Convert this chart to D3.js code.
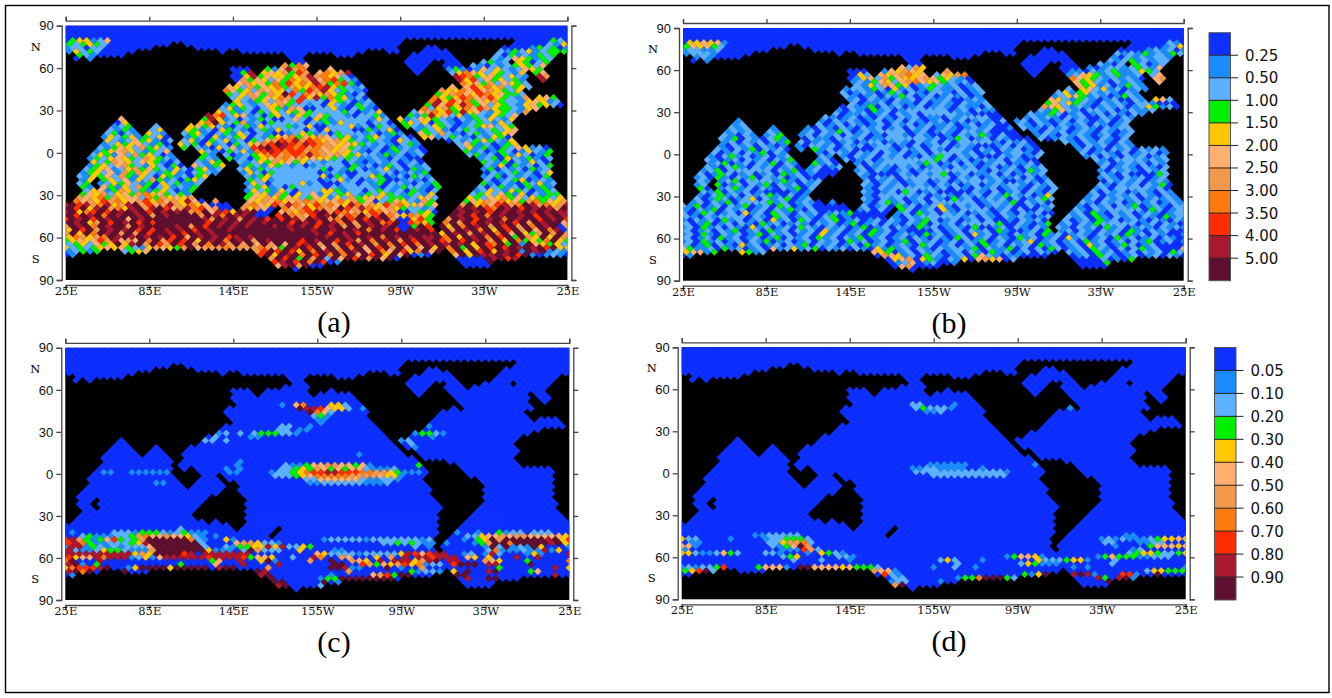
<!DOCTYPE html>
<html>
<head>
<meta charset="utf-8">
<script src="https://d3js.org/d3.v7.min.js"></script>
<style>
body { margin: 0; background: #fff; }
svg { display: block; }
.tick text { fill: #111; }
</style>
</head>
<body>
<svg id="fig" width="1332" height="698"></svg>
<script>
// Tick labels
const lonTicks = [25, 85, 145, 205, 265, 325, 385];
const lonLabels = ['25E', '85E', '145E', '155W', '95W', '35W', '25E'];
const latTicks = [90, 60, 30, 0, -30, -60, -90];

// Colour classes, 0 to a, and the colour bar labels
const classColors = ['#0d2fff', '#1a8cff', '#5cb0ff', '#00f000', '#ffc800', '#ffb070', '#f0984c', '#ff7a10', '#ff2d00', '#aa1830', '#5f1030'];
const labelsTop = ['0.25', '0.50', '1.00', '1.50', '2.00', '2.50', '3.00', '3.50', '4.00', '5.00'];
const labelsBottom = ['0.05', '0.10', '0.20', '0.30', '0.40', '0.50', '0.60', '0.70', '0.80', '0.90'];

// Land cells per grid row (row 0 is the north edge), as column ranges
const landRows = ['', '', '', '', '', '49-64', '15-16 48-63', '13-18 48-51 54-62',
  '10-21 23-24 43-45 48-50 55-61', '0-1 9-31 35-38 42-49 56-61 71', '0 2 4-31 34-48 56-60 70-71',
  '0-32 35-48 53-54 57-59 64 70-71', '0-30 35-48 52-53 57 69-71', '0-23 27-28 35-37 39-49 52-54 69-71',
  '0-23 27 35 41-49 51-54 66 69-71', '0-23 42-55 67 70-71', '0-23 42-55 66-67 69-71', '0-24 43-56 67-71',
  '0-22 43-54 56 67-71', '0-22 44-53 66-71', '0-22 43-52 66-71', '0-23 44-52 67 71', '0-23 44-51 71',
  '0-22 45-51', '0-21 45-50 68-71', '0-21 46-49 67-71', '0-19 46-48 65-71', '0-7 9-19 47 65-71',
  '0-6 9-18 47 64-71', '0-6 10-12 14-17 48 65-71', '0-5 10-11 14-16 48-49 65-71', '0-5 11 15-16 49-50 65-71',
  '0-4 15-16 50 64-71', '0-5 16 51-54 65-71', '0-4 15 51-55 65-71', '0-4 16 18 52-56 70-71',
  '0-3 15-18 52-56 70-71', '0-3 16-19 22 52-57 70-71', '0-2 16-18 22 51-58 70-71', '0-3 17-18 23-24 52-59 70-71',
  '0-2 17 23-24 52-59 70-71', '0-2 23-24 53-59 70-71', '0-1 22-24 52-59 70-71', '0-1 21-25 53-59 70-71',
  '0-1 4 20-25 53-59 70-71', '0-1 4 20-25 54-59 71', '0-1 4 19-25 54-58 70-71', '0-2 19-25 54-58 71',
  '0-1 18-25 53-57 71', '0-1 19-25 54-57', '0 20 22-25 53-56', '24-25 54-56', '24 30 53-55', '30 54-55',
  '29 53-54', '53-54', '53', '53', '53', '', '', '', '', '', '5-7 12-26 54', '2-27 53-55', '0-28 48-55 65-71',
  '0-29 40-56 62-71', '0-29 37-56 61-71', '0-32 34-71', '0-71', '0-71', '0-71'];

// Values read off each map as row:column:classes, anything not listed is the lowest class
const valuesA = ['5:1:344125', '5:70:32', '6:0:323432', '6:69:214', '7:0:122022', '7:67:13230', '8:0:14232', '8:62:2132412333', '9:2:321', '9:62:203121323', '10:3:1', '10:61:212543132',
  '11:60:2312', '11:65:43023', '12:31:6375', '12:58:21021234325', '13:24:000', '13:29:315967', '13:38:5', '13:55:13101524212543', '14:24:039', '14:28:4546386', '14:36:57469', '14:55:24754243214', '14:67:35',
  '15:24:004935443469674520', '15:56:98734532421', '15:68:96', '16:24:063542537469578321', '16:56:9482534231', '16:68:9', '17:25:564537384749637830', '17:57:7453625432',
  '18:23:54263547364478943212', '18:55:5', '18:57:5847462342', '19:23:753426544273869423210', '19:54:644758564324', '20:23:32465364a82754643102', '20:53:3467548745332',
  '21:24:24263547628493734120', '21:53:74348756843216', '21:68:453', '22:24:42134265384756432012', '22:52:7948573546322145412', '23:23:1342125463728354210321', '23:52:39584973524321453420',
  '24:22:24132024316543824102310', '24:51:72463475864332145', '25:22:423120324243536421320124', '25:50:25674839452143216', '26:20:97824512034214325312401231', '26:49:3139452413214325',
  '27:8:5', '27:20:394120213243152043125302142', '27:48:41254321021324214', '28:7:04', '28:19:47a4236120324105213142013520', '28:48:3424032101232142',
  '29:7:123', '29:13:2', '29:18:453421023142053124031524120321', '29:49:3212432012345243', '30:6:2131', '30:12:24', '30:17:431204321023142013204315203124', '30:50:132410232123245',
  '31:6:23021', '31:12:421', '31:17:23410231420213425431203125420131', '31:51:53262102312345', '32:5:1423413240', '32:17:13204123402134573546523412342102', '32:51:4512321021430',
  '33:6:4212534102', '33:17:241032412032568796874564321024', '33:55:0212343214', '34:5:1243452130', '34:16:42304120324578a98798765454321', '34:56:253120134',
  '35:5:21354263421', '35:17:3', '35:19:2104251289a898786756453210', '35:57:2413103254120', '36:4:13456421325', '36:19:4210324178987886765454210', '36:57:3120132014213',
  '37:4:243152634201', '37:20:31', '37:23:20123478678797656434221', '37:58:231203142013', '38:3:1324543264321', '38:19:321', '38:23:312034567564544323211', '38:59:12304213102',
  '39:4:4236542543102', '39:19:2143', '39:25:212436453422123421012', '39:60:3213021420', '40:3:13425632142 03', '40:18:52134', '40:25:132143212013212431201', '40:60:2140312023',
  '41:3:23451246353214203412', '41:25:24132012421230213201241302', '41:60:1302120312', '42:2:13425163642134102321', '42:25:142031241320121342012310 2', '42:60:0212312024',
  '43:2:2143526314204312034', '43:26:213420132124031221430', '43:60:1230212103', '44:2:14', '44:5:342514263120342', '44:26:324120213031241201230', '44:60:2012340121',
  '45:2:23', '45:5:124352130423112', '45:26:1420312341203124021302', '45:60:3102103241 2', '46:2:31', '46:5:53142630241213', '46:26:234120324130214230102132', '46:59:20231203131',
  '47:3:2451364231342013', '47:26:142314203124431052132', '47:59:124214320132', '48:2:3546245367453231', '48:26:354163042514234213243', '48:58:2342531402133',
  '49:2:65473645527364546', '49:26:3546435423541426345423', '49:58:43254635243324', '50:1:756486745684756495', '50:21:6', '50:26:546574567645574635', '50:57:354657453673546',
  '51:0:9a89679469a6856964745', '51:26:675486975486754975648674', '51:57:6a4758967a96746', '52:0:a8a49a6749a69a85697856', '52:25:6465', '52:31:75684765a8697456475', '52:56:9a9a87a9a8a9a96a',
  '53:0:9a478a8a9a9a8a9a9a67a5984a9a', '53:31:564789a6875648756', '53:56:a9a9a8a9a9a9a9a9', '54:0:a8a9a7a9aa9a6a9aaaa6a97a99a', '54:30:8a7658a9a687a68a7', '54:55:a9a8a7a9aa9a8a9a9',
  '55:0:8a9a8a9aa5a9aaaaaaaa96a9a6a9a8a8a96a9a67a8a8a9a6', '55:55:6a9a8a9a7a9aa8a9a', '56:0:a9a46a8a9a8a8aaaaaaa8a9a9a9a9aaa8a9a8a97a6a9a78a', '56:54:7a6a8a9a9a8a6a9aa5',
  '57:0:6a9a7a9aa6a9aaaa9a6a8a9a9a9aaa9a9a9a8a9a6a6a9a9a', '57:54:a4a7a9a6a8a6a7a9a', '58:0:4a8a6a9a9a8a8a9a9a8a9aa9aaaaaaaa9aa9aa9aa9a7a9a8', '58:54:a6a9a7a4a8a6a5a79',
  '59:0:6a4a7a9a6a6a8aa9a8a9a9aaaaaaaaaaaaaa9a8a9a8aaaaaaaaaaa4a9a6a9a7a5a436a6a', '60:0:476467a9a9a9a9a8a5a9a9a89a9aaaaaaaaaa9aa9aa9a7a9a9a99a7a4a9a7a8a3a64a4a6a',
  '61:0:34545869565a7a68a8a4a9a7a9a6a9aaaa8a9aa8a96a7a9a6a8a9a87a8a9a6a4a73437a4', '62:0:2342534a49a6a86a8a6a7a96a6a5a6a5a89a6a6a8a9a6a7a8a7a9a9a9a4a87a3a1a54342',
  '63:0:423234545321465436a5666766667653a9a8a5a6a7a5a8a6a5a5a4a7a3a4a8a8a9a9a8a4', '64:0:12313', '64:8:2345', '64:27:68a8a84a7a9a7a9a5a75a847a5a', '64:55:7a4a8a4a9a1a9a1213',
  '65:0:01', '65:28:8a4a9a7a8a7a7a5a8a4a5a0101', '65:56:5a4a99a9a8a1012101', '66:29:6a8a3a6a2a5a8a6a5a0', '66:56:0000a9a89', '67:30:89a8a7a801', '67:57:0000a', '68:30:59a6a00', '68:57:0000', '69:33:0',
  // east Pacific edge
  '33:44:3210421', '34:45:210231', '35:44:1203121', '36:44:20132120', '37:46:312012', '38:44:210210', '39:46:120120', '40:46:320212', '41:47:120312', '42:46:201213', '43:47:120321', '44:47:012102',
  '45:48:210213', '46:50:2103', '47:47:1203102', '48:47:213214', '49:48:3124521', '50:45:23542163', '51:50:4535', '52:48:32212', '53:50:2340', '54:47:547643', '55:50:483', '56:49:8743', '57:50:3a8', '58:49:a9a8',
  // solid patches in the central Pacific
  '22:34:2220', '23:33:22120', '24:34:0022', '25:36:2222', '26:38:22102', '27:30:002', '27:40:2222', '28:31:2220', '28:41:2202', '29:30:22', '29:36:0022', '30:31:2220', '30:38:2220', '31:30:0012', '31:40:2221',
  '39:38:2202', '40:36:22220', '41:30:222222', '42:30:222222', '42:40:0022', '43:31:22222', '43:40:2022', '44:31:222220', '45:30:2222', '45:38:0022', '46:33:22220', '46:40:2222', '47:34:222', '47:41:2202'];

const valuesB = ['5:1:445451', '5:70:21', '6:0:354532', '6:69:124', '7:0:122112', '7:67:12120', '8:0:12221', '8:62:2121312132', '9:2:121', '9:62:102121221', '10:3:1', '10:61:212312122',
  '11:60:2102', '11:65:32012', '12:31:5264', '12:58:10122123215', '13:24:000', '13:29:154654', '13:38:6', '13:55:01102123112432', '14:24:042', '14:28:5456745', '14:36:25467', '14:55:12543123112', '14:67:25',
  '15:24:014526354456534210', '15:56:75432121210', '15:68:56', '16:24:121354256754532120', '16:56:5342102121', '16:68:5', '17:25:214265340123212012', '17:57:5341201321',
  '18:23:12213204120132112012', '18:55:2', '18:57:4524120121', '19:23:201210132021022102012', '19:54:241342121021', '20:23:21012021320120121201', '20:53:1245312101321',
  '21:24:12021102120211200121', '21:53:54213210120021', '21:68:452', '22:24:20112021102012102112', '22:52:3524321021210221', '23:23:0211302120120121021102', '23:52:65421210121201243120',
  '24:22:10210312012102120120211', '24:51:21352102212012112', '25:22:201120120212012102110', '25:50:21132012012021021', '26:20:21012010210212011021021 0', '26:49:1212102120021021',
  '27:8:1', '27:20:102121012012021012012012102', '27:48:12021012021012012', '28:7:12', '28:19:2012021012021201211201201 2', '28:48:2102102112021012',
  '29:7:212', '29:13:1', '29:18:102102102120120212012101212001', '29:49:2110212012102122', '30:6:1212', '30:12:21', '30:17:120213201210212012012102212', '30:50:102120121021012',
  '31:6:21021', '31:12:123', '31:17:120212021201022102120102123102', '31:51:12102121012012', '32:5:2130210231', '32:17:021102212011202110120132012021', '32:51:2012102102102',
  '33:6:1202120213', '33:17:201210120122012102120201221021', '33:55:2102121021', '34:5:1021202101', '34:16:102212021201220102012201210', '34:56:102120121',
  '35:5:21021302120', '35:17:1', '35:19:3120120120210212021022102', '35:57:1201021202121', '36:4:20120213021', '36:19:1022102120212012012101201', '36:57:2012102012201',
  '37:4:102312012012', '37:20:21', '37:23:10212021201021320212', '37:58:120210212012', '38:3:2101202120213', '38:19:120', '38:23:201201220120132012012', '38:59:21021201212',
  '39:4:1230120213021', '39:19:3120', '39:25:102120210132012021 012', '39:60:1201212021', '40:3:21023102120120', '40:18:12012', '40:25:201210212012102120120', '40:60:2012102102',
  '41:3:12302120120213012', '41:25:12021012012102120210212012', '41:60:1021210212', '42:2:20132012012031201', '42:25:210120210212301201120', '42:60:2102102132',
  '43:2:1203102130212012', '43:26:102120212012102120121', '43:60:1210212012', '44:2:21', '44:5:123012021310212', '44:26:201210122012012102120', '44:60:0212120121',
  '45:2:12', '45:5:301202130212012', '45:26:2102120121021201201212', '45:60:2102120213', '46:2:30', '46:5:12312021021302', '46:26:102120312012021021201210', '46:59:12021012120',
  '47:3:2130212012032101', '47:26:21012032012012012102', '47:59:202120121021', '48:2:1023120212310201', '48:26:102120312012102120213', '48:58:1201212021021',
  '49:2:20132012402123012', '49:26:2102120120210312012120', '49:58:12021212012121', '50:1:120213021203120121', '50:21:1', '50:26:102312012012031201210', '50:57:210212012120121',
  '51:0:2130120213012032012', '51:26:20120312012410212012120', '51:57:102120213012102', '52:0:1021302120120213102', '52:25:1202', '52:31:320120410212301202', '52:56:2102120121032012',
  '53:0:20132012041203210212012130', '53:31:120312021201210', '53:56:1203102120121012', '54:0:210210321021032012102301', '54:30:102120213012021021', '54:55:21203102120210312',
  '55:0:102120312012041203201230120120210213201201202', '55:55:20120312012102102', '56:0:2013012021031201210212013012021021302120120213', '56:54:12021310212012021',
  '57:0:1203120210412012032102120130120210312012103', '57:54:210212031201210212', '58:0:20120213012031202120412012031201201320120212031', '58:54:12021021203102120',
  '59:0:1203102120130212012041201203120121031201204120102120312012102120312021', '60:0:20120312012013021203120213012012021021032012021031201204120120312012021',
  '61:0:12031201202130120120212031201201302120120213012012401201203120120213012', '62:0:20130210412012021302120120312012103201201203120212031201204120132012',
  '63:0:53112031201205124123021202104131202102122130211302020320120321 0202312', '64:0:45513', '64:8:4312', '64:27:54301202120120210312012021', '64:55:21203120120212032012',
  '65:0:01', '65:28:0654120321012035210110', '65:56:01203210120120210', '66:29:0456043102140564502', '66:56:0000201032', '67:30:01250120013', '67:57:00003', '68:30:0560000', '68:57:0000', '69:33:0',
  // east Pacific edge
  '33:44:2102120', '34:45:120210', '35:44:1021201', '36:44:20122102', '37:46:212012', '38:44:120210', '39:46:201120', '40:46:120212', '41:47:210312', '42:46:201212', '43:47:120201', '44:47:012102',
  '45:48:210212', '46:50:2102', '47:47:1202102', '48:47:212014', '49:48:2012321', '50:45:21302120', '51:50:2012', '52:51:21', '53:46:2102120', '54:48:21012', '55:47:102120', '56:48:21013', '57:45:120210212', '58:49:1203',
  // solid patches
  '24:33:2222', '25:35:22222', '26:40:2222', '30:28:2222', '31:36:00', '32:30:22222', '33:40:2222', '35:26:0022', '36:36:2222', '38:30:222222', '39:30:2222', '41:36:222222', '42:28:00', '43:33:222222', '44:40:2222',
  '46:30:222222', '47:38:0000', '48:28:22222', '50:36:22222', '52:40:2222', '54:35:22222', '56:40:22222', '58:32:0000', '41:8:2222', '44:9:2222', '47:12:0000', '50:8:2222', '54:5:2222', '56:60:2222', '52:62:2222', '46:62:2222', '42:64:0000', '38:62:2222'];

const valuesC = ['17:31:1', '17:33:57', '17:38:442', '18:33:a998544', '18:40:2', '18:42:1', '19:35:a752', '20:35:231', '21:36:11', '22:36:1', '23:31:22', '23:35:1', '23:52:1', '24:30:22', '24:33:11',
  '25:21:112', '25:25:2', '25:27:23332', '25:32:21', '25:50:13321', '26:21:2', '26:26:11', '26:52:1', '27:20:22', '27:23:2', '27:48:12', '28:49:2', '29:50:1',
  '31:42:1', '33:25:1', '34:24:1', '34:31:211', '34:34:355665535', '34:43:1', '34:50:3', '35:23:1', '35:25:1', '35:31:2234365353', '35:41:5521112', '36:5:11', '36:9:111111', '36:23:11', '36:29:1223',
  '36:33:478899', '36:39:8887766', '36:46:43111', '37:30:222', '37:33:34577777', '37:41:666654', '37:47:4', '37:48:1', '38:34:22555555', '38:42:21', '38:44:1221', '39:13:11', '39:35:11', '39:37:222222', '39:43:1112',
  '52:16:2', '53:1:1', '53:7:222', '53:10:133321231', '53:19:11', '53:56:1', '53:59:1', '53:62:3122', '53:67:222', '54:2:231112236755655421', '54:21:1', '54:57:224', '54:60:5565', '54:64:6655', '54:68:5554',
  '55:0:8963135832', '55:10:36aaaaaa72', '55:20:1', '55:23:41', '55:37:1222221222222', '55:50:212', '55:57:1', '55:59:34a6a', '55:64:aaaa', '55:68:a9a47',
  '56:0:8973112223', '56:10:49aaaaaaaa', '56:19:2', '56:24:5664221', '56:45:2232', '56:49:3211', '56:54:1', '56:58:13', '56:60:6aa7a', '56:65:aaaa9a4',
  '57:0:19913212122', '57:11:25aaaaaaa', '57:19:a2', '57:23:2133', '57:27:44949', '57:32:2243', '57:50:2', '57:52:1', '57:60:1a', '57:62:2a1', '57:65:21a4',
  '58:0:921124332111', '58:12:6aaaaaaaa', '58:20:4', '58:21:111', '58:25:2a6222', '58:33:4', '58:38:11', '58:60:27', '58:62:11121', '58:67:1914',
  '59:0:9999999999464', '59:13:aaaa89', '59:20:9999999', '59:36:54222212', '59:44:2222', '59:48:49858', '59:53:99', '59:57:12', '59:60:19', '59:62:2', '59:66:141',
  '60:0:845597999124', '60:12:15999999', '60:20:8999', '60:24:983554', '60:32:2', '60:35:97', '60:39:65', '60:44:4', '60:46:6', '60:48:9', '60:50:99899', '60:55:9', '60:57:54',
  '60:60:4', '60:64:9', '60:67:9', '61:0:7', '61:1:a', '61:5:9', '61:21:35', '61:25:9', '61:28:4a1', '61:35:6', '61:38:a', '61:41:65', '61:43:4', '61:45:9', '61:47:999', '61:50:46', '61:52:9a', '61:55:99', '61:60:654', '61:66:3',
  '62:0:9a1', '62:4:3', '62:16:3', '62:21:5', '62:25:9', '62:30:9', '62:38:aa', '62:42:86354', '62:47:6847', '62:51:122', '62:55:8aaa', '62:60:99', '62:66:a',
  '63:0:47888', '63:5:9a', '63:9:14', '63:11:aaaa', '63:15:4', '63:16:aaaaa', '63:22:9aa', '63:29:6', '63:38:aa9', '63:41:11', '63:46:a', '63:48:1', '63:51:6', '63:62:3', '63:70:9',
  '64:0:9a7', '64:3:a', '64:8:a', '64:27:a9', '64:40:6', '64:49:3', '64:50:122', '64:53:1', '64:55:4', '64:57:a', '64:60:9a', '64:66:35', '65:0:01', '65:28:9a', '65:38:1', '65:44:56', '65:46:83', '65:48:aa', '65:56:aa', '65:60:0', '65:70:9',
  '66:29:a', '66:36:1', '66:37:33', '66:39:aaaaaaaa', '66:57:9', '66:60:aa', '67:30:aa', '67:37:a', '67:39:11', '68:30:9a', '68:36:2'];

const valuesD = ['17:33:22', '17:39:1', '18:33:23', '18:35:2221', '18:55:1', '19:35:112', '34:35:111111', '34:50:1', '35:33:11', '35:35:221111', '35:43:1', '36:33:22', '36:35:22222222222', '36:46:1', '37:36:22222222222',
  '54:10:1122222', '54:63:11', '55:0:42', '55:2:2', '55:7:1', '55:12:1223332', '55:60:12121112', '55:68:34455', '56:1:11', '56:12:224667', '56:18:2', '56:60:22', '56:65:112', '56:68:2',
  '57:0:551', '57:13:2', '57:14:1', '57:15:35a6', '57:62:1', '57:67:35554', '58:0:1', '58:14:111', '58:17:862', '58:64:12', '59:0:44211256', '59:7:32', '59:12:221', '59:18:1', '59:20:4321',
  '59:64:23443223', '60:14:234', '60:22:221', '60:46:1', '60:47:3', '60:48:554', '60:51:1', '60:59:1', '60:60:353', '60:63:33', '60:65:11222', '61:16:2', '61:20:2', '61:24:1', '61:37:242', '61:43:1', '61:51:4222', '61:55:34', '61:57:41', '61:62:2',
  '62:39:2', '62:48:243', '62:51:111', '62:61:2', '63:0:12122', '63:5:38', '63:11:3', '63:12:555', '63:15:1', '63:17:aa', '63:19:5555', '63:23:4', '63:24:5', '63:25:333', '63:28:2', '63:36:1', '63:39:2', '63:42:1', '63:56:1', '63:58:1',
  '64:0:348a2', '64:27:6551', '64:66:244333', '65:1:0', '65:29:8', '65:30:21', '65:49:3', '65:50:1', '65:51:4', '65:52:a', '65:56:9a9', '65:59:1', '65:63:88', '65:65:1', '65:68:a',
  '66:30:22', '66:39:1', '66:40:3', '66:41:3', '66:42:7', '66:43:aaa', '66:46:3', '66:47:2', '66:59:9', '66:60:3', '66:62:9a', '66:64:1', '67:30:1', '67:31:2', '67:32:2', '67:37:1', '67:61:a', '68:30:6', '68:31:a'];

const panels = [
  {values: valuesA, left: 65.7, right: 567.4, top: 25.7, bottom: 280, tag: '(a)', tagX: 334},
  {values: valuesB, left: 683, right: 1183.7, top: 28, bottom: 280.7, tag: '(b)', tagX: 949},
  {values: valuesC, left: 65.3, right: 569.3, top: 347.8, bottom: 600, tag: '(c)', tagX: 334},
  {values: valuesD, left: 681.7, right: 1185.7, top: 347.3, bottom: 599.3, tag: '(d)', tagX: 949}
];

const svg = d3.select('#fig');

// page frame
svg.append('rect').attr('x', 5.5).attr('y', 5.5).attr('width', 1323.5).attr('height', 687)
  .attr('fill', '#fff').attr('stroke', '#000').attr('stroke-width', 1.4);

function expandRange(text) {
  // '3-7 12' => [3,4,5,6,7,12]
  const out = [];
  text.split(' ').filter(s => s).forEach(part => {
    const ends = part.split('-').map(Number);
    for (let k = ends[0]; k <= ends[ends.length - 1]; k++) out.push(k);
  });
  return out;
}

function buildCells(values) {
  const landSet = new Set();
  landRows.forEach((text, r) => expandRange(text).forEach(k => landSet.add(r + '_' + k)));
  const classes = new Map();
  values.forEach(entry => {
    const parts = entry.split(':');
    const chars = parts[2].replace(/ /g, '');
    for (let i = 0; i < chars.length; i++) {
      classes.set(parts[0] + '_' + (+parts[1] + i), parseInt(chars[i], 16));
    }
  });
  const cells = [];
  for (let r = 0; r <= 72; r++) {
    for (let k = 0; k < 72; k++) {
      const key = r + '_' + k;
      if (landSet.has(key)) continue;
      const cell = {lat: 92.1 - 2.526 * r, lon: 25 + 5 * k + (r % 2 === 0 ? 2.5 : 0), cls: classes.get(key) || 0};
      cells.push(cell);
      // the first column of odd rows shows again on the right edge
      if (r % 2 === 1 && k === 0) cells.push({lat: cell.lat, lon: 385, cls: cell.cls});
    }
  }
  return cells;
}

function styleAxis(g) {
  g.selectAll('path, line').attr('stroke', '#444').attr('stroke-width', 1.3);
}

function drawPanel(p, i) {
  const x = d3.scaleLinear().domain([25, 385]).range([p.left, p.right]);
  const y = d3.scaleLinear().domain([90, -90]).range([p.top, p.bottom]);
  const hw = x(27.5) - x(25);
  const hh = y(0) - y(2.526);
  const g = svg.append('g');

  g.append('clipPath').attr('id', 'clip' + i).append('rect')
    .attr('x', p.left).attr('y', p.top).attr('width', p.right - p.left).attr('height', p.bottom - p.top);
  g.append('rect').attr('x', p.left).attr('y', p.top).attr('width', p.right - p.left).attr('height', p.bottom - p.top)
    .attr('fill', '#000');

  // one path per class so neighbouring diamonds of a colour leave no seam
  const byClass = Array.from(d3.group(buildCells(p.values), d => d.cls));
  g.append('g').attr('clip-path', 'url(#clip' + i + ')')
    .selectAll('path').data(byClass).enter().append('path')
    .attr('d', d => d[1].map(c => {
      const cx = x(c.lon), cy = y(c.lat);
      return `M${cx - hw},${cy}L${cx},${cy - hh}L${cx + hw},${cy}L${cx},${cy + hh}Z`;
    }).join(''))
    .attr('fill', d => classColors[d[0]])
    .attr('stroke', d => classColors[d[0]])
    .attr('stroke-width', 0.3);

  // axes sit a few pixels off the map
  const bottom = d3.axisBottom(x).tickValues(lonTicks).tickSize(5).tickFormat((d, j) => lonLabels[j]);
  g.append('g').attr('transform', `translate(0,${p.bottom + 5})`).call(bottom).call(styleAxis)
    .selectAll('text').attr('font-family', 'DejaVu Serif').attr('font-size', 11.5).attr('dy', 2);
  const top = d3.axisTop(x).tickValues(lonTicks).tickSize(4).tickFormat('');
  g.append('g').attr('transform', `translate(0,${p.top - 5})`).call(top).call(styleAxis);
  const left = d3.axisLeft(y).tickValues(latTicks).tickSize(5).tickFormat(d => Math.abs(d));
  g.append('g').attr('transform', `translate(${p.left - 4},0)`).call(left).call(styleAxis)
    .selectAll('text').attr('font-family', 'Liberation Sans').attr('font-size', 13);
  const right = d3.axisRight(y).tickValues(latTicks).tickSize(5).tickFormat('');
  g.append('g').attr('transform', `translate(${p.right + 4},0)`).call(right).call(styleAxis);

  g.selectAll('.domain').attr('fill', 'none');

  g.append('text').attr('x', p.left - 30).attr('y', y(75) + 4).text('N')
    .attr('font-family', 'DejaVu Serif').attr('font-size', 11.5).attr('text-anchor', 'middle');
  g.append('text').attr('x', p.left - 30).attr('y', y(-75) + 4).text('S')
    .attr('font-family', 'DejaVu Serif').attr('font-size', 11.5).attr('text-anchor', 'middle');

  g.append('text').attr('x', p.tagX).attr('y', p.bottom + 52).text(p.tag)
    .attr('font-family', 'Liberation Serif').attr('font-size', 30).attr('text-anchor', 'middle');
}

panels.forEach(drawPanel);

function drawBar(left, top, bottom, labels) {
  const w = 21.5;
  const y = d3.scaleLinear().domain([0, classColors.length]).range([top, bottom]);
  const g = svg.append('g');
  g.selectAll('rect').data(classColors).enter().append('rect')
    .attr('x', left).attr('y', (d, i) => y(i)).attr('width', w).attr('height', y(1) - y(0))
    .attr('fill', d => d);
  g.append('rect').attr('x', left).attr('y', top).attr('width', w).attr('height', bottom - top)
    .attr('fill', 'none').attr('stroke', '#555').attr('stroke-width', 1);
  g.selectAll('line').data(labels).enter().append('line')
    .attr('x1', left).attr('x2', left + w + 7.5)
    .attr('y1', (d, i) => y(i + 1)).attr('y2', (d, i) => y(i + 1))
    .attr('stroke', '#222').attr('stroke-width', 1);
  g.selectAll('text').data(labels).enter().append('text')
    .attr('x', left + w + 14.5).attr('y', (d, i) => y(i + 1) + 5.5)
    .text(d => d).attr('font-family', 'DejaVu Sans').attr('font-size', 15).attr('fill', '#111');
}

drawBar(1209, 32.7, 280.7, labelsTop);
drawBar(1214.5, 347.5, 600, labelsBottom);
</script>
</body>
</html>
